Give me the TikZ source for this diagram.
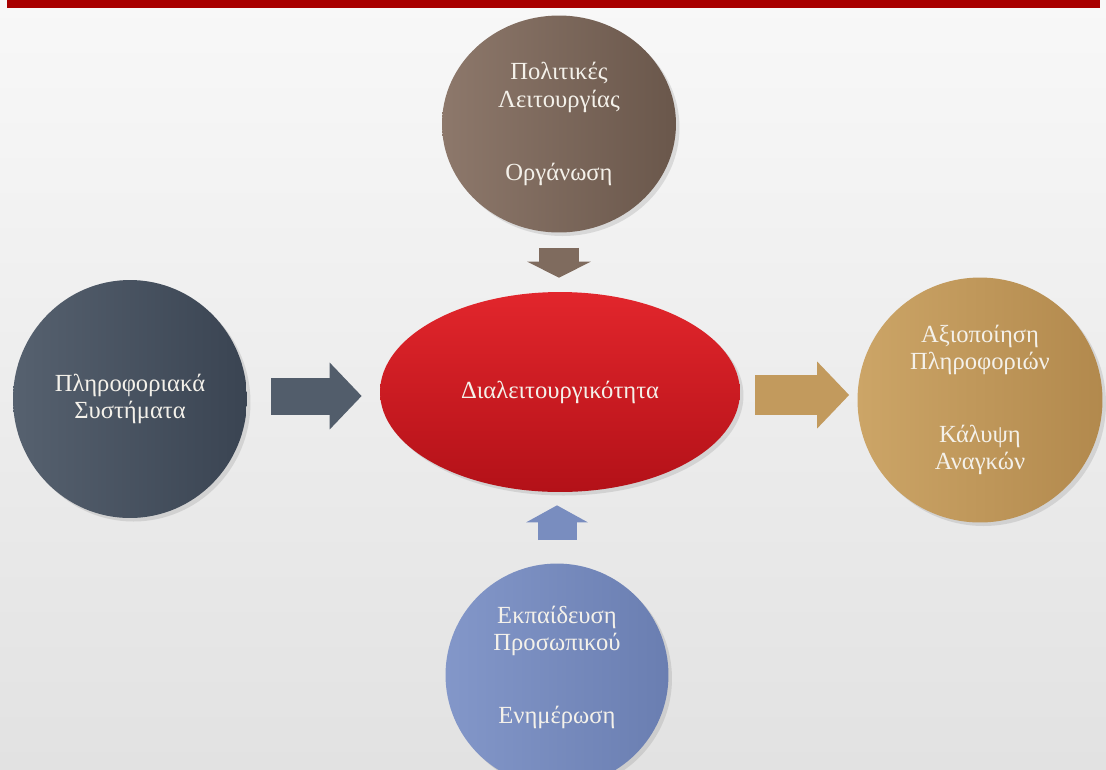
\documentclass[tikz,border=0pt]{standalone}
\usepackage{fontspec}
\setmainfont{Liberation Serif}
\usetikzlibrary{arrows.meta,calc,shadows,shapes.geometric}

\definecolor{bgtop}{HTML}{F8F8F8}
\definecolor{bgbot}{HTML}{E2E2E2}
\definecolor{barred}{HTML}{A80000}
\definecolor{brownA}{HTML}{8D786B}
\definecolor{brownB}{HTML}{6A574B}
\definecolor{slateA}{HTML}{56616F}
\definecolor{slateB}{HTML}{3A4452}
\definecolor{goldA}{HTML}{CCA567}
\definecolor{goldB}{HTML}{B2894D}
\definecolor{blueA}{HTML}{8397C9}
\definecolor{blueB}{HTML}{6A7EB1}
\definecolor{redA}{HTML}{E2262C}
\definecolor{redB}{HTML}{B31118}
\definecolor{txt}{HTML}{F4F1EA}

\tikzset{
  bubble/.style={ellipse, inner sep=0pt, align=center, text=txt,
    font=\fontsize{14}{15.5}\selectfont,
    drop shadow={opacity=.22, shadow xshift=2pt, shadow yshift=-2pt}},
  fatarrow/.style n args={3}{line width=#1, -{Triangle[length=#2, width=#3]}}
}

\begin{document}
\begin{tikzpicture}[x=0.02cm, y=-0.02cm]
\clip (0,0) rectangle (1106,769);
\fill[top color=bgtop, bottom color=bgbot] (0,0) rectangle (1106,769);
\fill[barred] (7,0) rectangle (1100,8);

\node[bubble, minimum width=4.68cm, minimum height=4.34cm, left color=brownA, right color=brownB] (politikes) at (559,124)
    {Πολιτικές\\Λειτουργίας\\[26pt]Οργάνωση};
\node[bubble, minimum width=4.68cm, minimum height=4.76cm, left color=slateA, right color=slateB] (systimata) at (130,399)
    {Πληροφοριακά\\Συστήματα};
\node[bubble, minimum width=7.2cm, minimum height=4cm, top color=redA, bottom color=redB] (kentro) at (560,392)
    {Διαλειτουργικότητα};
\node[bubble, minimum width=4.9cm, minimum height=4.9cm, left color=goldA, right color=goldB] (axiopoiisi) at (980,400)
    {Αξιοποίηση\\Πληροφοριών\\[26pt]Κάλυψη\\Αναγκών};
\node[bubble, minimum width=4.46cm, minimum height=4.46cm, left color=blueA, right color=blueB] (ekpaideusi) at (557,675)
    {Εκπαίδευση\\Προσωπικού\\[26pt]Ενημέρωση\\[-3.5pt]\mbox{}};

\draw[fatarrow={0.74cm}{0.64cm}{1.3cm}, draw=slateA!85!slateB]
    ($(systimata.east)+(24,-3)$) -- ($(systimata.east -| kentro.west)+(-18,-3)$);
\draw[fatarrow={0.8cm}{0.64cm}{1.3cm}, draw=goldA!60!goldB]
    ($(kentro.east)+(15,3)$) -- ($(kentro.east -| axiopoiisi.west)+(-8,3)$);
\draw[fatarrow={0.8cm}{0.32cm}{1.26cm}, draw=brownA!60!brownB]
    ($(politikes.south)+(0,15)$) -- ($(kentro.north)+(-1,-14)$);
\draw[fatarrow={0.78cm}{0.34cm}{1.22cm}, draw=blueA!60!blueB]
    ($(ekpaideusi.north)+(0,-23)$) -- ($(kentro.south)+(-3,13)$);
\end{tikzpicture}
\end{document}
